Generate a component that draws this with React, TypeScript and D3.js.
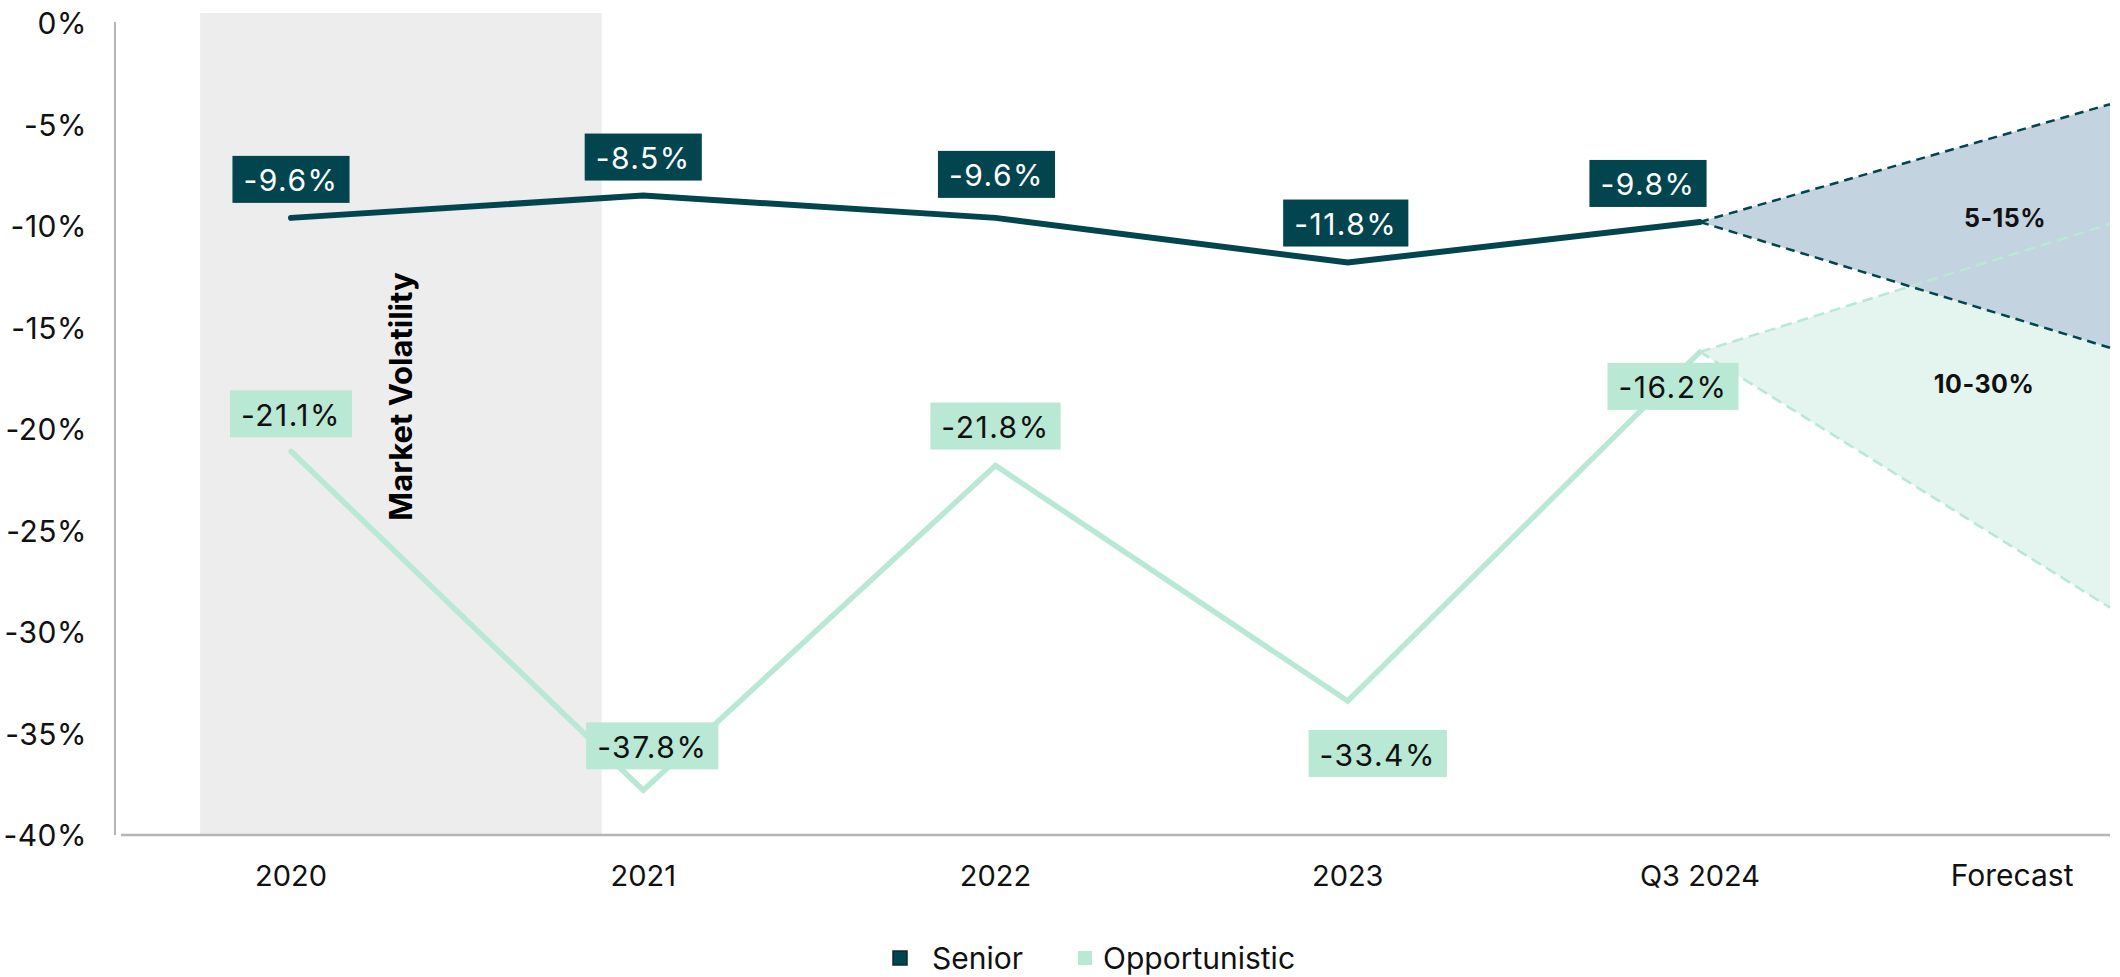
import React, { useEffect, useRef } from "react";
import * as d3 from "d3";

// ---- data ----
const categories = ["2020", "2021", "2022", "2023", "Q3 2024"];
const forecastCategory = "Forecast";
const seniorValues = [-9.6, -8.5, -9.6, -11.8, -9.8];
const opportunisticValues = [-21.1, -37.8, -21.8, -33.4, -16.2];
const seniorForecastRange = [-4.0, -16.0];
const opportunisticForecastRange = [-9.9, -28.8];
const forecastRangeLabels = ["5-15%", "10-30%"];
const yTicks = [0, -5, -10, -15, -20, -25, -30, -35, -40];
const seriesNames = ["Senior", "Opportunistic"];
const shadedLabel = "Market Volatility";

// ---- label placement (style, not data) ----
const seniorLabelPlacement = [
  { side: "above", gap: 15, dx: 0 },
  { side: "above", gap: 15, dx: 0 },
  { side: "above", gap: 20, dx: 1 },
  { side: "above", gap: 16, dx: -2 },
  { side: "above", gap: 15, dx: -52 },
];
const oppLabelPlacement = [
  { side: "above", gap: 14, dx: 0 },
  { side: "above", gap: 21, dx: 9 },
  { side: "above", gap: 16, dx: 0 },
  { side: "below", gap: 29, dx: 30 },
  { side: "below", gap: 11, dx: -27 },
];

const W = 2120;
const H = 977;
const DARK = "#02454F";
const LIGHT = "#B9E8D5";
const SENIOR_CONE = "#C4D3E0";
const OPP_CONE = "#E3F5EE";
const FONT = "Inter, 'Noto Sans', sans-serif";

export default function App() {
  const ref = useRef<SVGSVGElement | null>(null);

  useEffect(() => {
    const svg = d3.select(ref.current);
    svg.selectAll("*").remove();

    const axisLeft = 115;
    const plotRight = 2110;
    const y = d3.scaleLinear().domain([0, -40]).range([23, 835]);
    const x = d3.scalePoint<string>().domain(categories).range([291, 1700]);
    const step = x.step();
    const forecastX = plotRight;
    const forecastLabelX = (x("Q3 2024") as number) + step * 0.886;

    // shaded "market volatility" band
    const bandX0 = (x("2020") as number) - step * 0.258;
    const bandX1 = (x("2021") as number) - step * 0.118;
    svg
      .append("rect")
      .attr("x", bandX0)
      .attr("y", y(0) - 10)
      .attr("width", bandX1 - bandX0)
      .attr("height", y(-40) - (y(0) - 10))
      .attr("fill", "#EDEDED");

    // axes
    svg
      .append("line")
      .attr("x1", axisLeft)
      .attr("x2", axisLeft)
      .attr("y1", y(0) - 1)
      .attr("y2", y(-40))
      .attr("stroke", "#B5B5B5")
      .attr("stroke-width", 2);
    svg
      .append("line")
      .attr("x1", axisLeft + 6)
      .attr("x2", plotRight)
      .attr("y1", y(-40))
      .attr("y2", y(-40))
      .attr("stroke", "#B5B5B5")
      .attr("stroke-width", 2.5);

    // y tick labels
    svg
      .append("g")
      .selectAll("text")
      .data(yTicks)
      .join("text")
      .attr("x", 87)
      .attr("y", (d) => y(d))
      .attr("text-anchor", "end")
      .attr("dominant-baseline", "central")
      .attr("font-family", FONT)
      .attr("font-size", 30)
      .attr("letter-spacing", 0.5)
      .attr("fill", "#111")
      .text((d) => `${d}%`);

    // x labels
    svg
      .append("g")
      .selectAll("text")
      .data(categories)
      .join("text")
      .attr("x", (d) => x(d) as number)
      .attr("y", 875)
      .attr("text-anchor", "middle")
      .attr("dominant-baseline", "central")
      .attr("font-family", FONT)
      .attr("font-size", 29)
      .attr("fill", "#111")
      .text((d) => d);
    svg
      .append("text")
      .attr("x", forecastLabelX)
      .attr("y", 875)
      .attr("text-anchor", "middle")
      .attr("dominant-baseline", "central")
      .attr("font-family", FONT)
      .attr("font-size", 30)
      .attr("fill", "#111")
      .text(forecastCategory);

    // forecast cones
    const lastX = x("Q3 2024") as number;
    const sLast = seniorValues[seniorValues.length - 1];
    const oLast = opportunisticValues[opportunisticValues.length - 1];
    const cone = (v0: number, r: number[]) =>
      `M${lastX},${y(v0)}L${forecastX},${y(r[0])}L${forecastX},${y(r[1])}Z`;
    svg.append("path").attr("d", cone(oLast, opportunisticForecastRange)).attr("fill", OPP_CONE);
    svg.append("path").attr("d", cone(sLast, seniorForecastRange)).attr("fill", SENIOR_CONE);

    const dashed = (v0: number, v1: number, color: string, dash: string) =>
      svg
        .append("line")
        .attr("x1", lastX)
        .attr("y1", y(v0))
        .attr("x2", forecastX)
        .attr("y2", y(v1))
        .attr("stroke", color)
        .attr("stroke-width", 2.5)
        .attr("stroke-dasharray", dash);
    opportunisticForecastRange.forEach((v) => dashed(oLast, v, LIGHT, "11,6"));
    seniorForecastRange.forEach((v) => dashed(sLast, v, DARK, "9,6"));

    // series lines
    const line = d3
      .line<number>()
      .x((_, i) => x(categories[i]) as number)
      .y((d) => y(d));
    svg
      .append("path")
      .attr("d", line(opportunisticValues))
      .attr("fill", "none")
      .attr("stroke", LIGHT)
      .attr("stroke-width", 5.5)
      .attr("stroke-linecap", "round")
      .attr("stroke-linejoin", "miter");
    svg
      .append("path")
      .attr("d", line(seniorValues))
      .attr("fill", "none")
      .attr("stroke", DARK)
      .attr("stroke-width", 6)
      .attr("stroke-linecap", "round")
      .attr("stroke-linejoin", "miter");

    // value labels
    const boxH = 47;
    const drawLabels = (
      values: number[],
      placement: { side: string; gap: number; dx: number }[],
      bg: string,
      fg: string
    ) => {
      values.forEach((v, i) => {
        const p = placement[i];
        const cx = (x(categories[i]) as number) + p.dx;
        const py = y(v);
        const top = p.side === "above" ? py - p.gap - boxH : py + p.gap;
        const g = svg.append("g");
        const rect = g.append("rect").attr("fill", bg);
        const t = g
          .append("text")
          .attr("x", cx)
          .attr("y", top + boxH / 2 + 1)
          .attr("text-anchor", "middle")
          .attr("dominant-baseline", "central")
          .attr("font-family", FONT)
          .attr("font-size", 30)
          .attr("letter-spacing", 1.5)
          .attr("fill", fg)
          .text(`${v.toFixed(1)}%`);
        const w = (t.node() as SVGTextElement).getBBox().width + 22;
        rect
          .attr("x", cx - w / 2)
          .attr("y", top)
          .attr("width", w)
          .attr("height", boxH);
      });
    };
    drawLabels(opportunisticValues, oppLabelPlacement, LIGHT, "#111");
    drawLabels(seniorValues, seniorLabelPlacement, DARK, "#FFFFFF");

    // forecast range labels
    const rangeLabelPos = [
      { x: forecastLabelX - 7, y: y(-9.6) },
      { x: forecastLabelX - 28, y: y(-17.8) },
    ];
    forecastRangeLabels.forEach((lab, i) => {
      svg
        .append("text")
        .attr("x", rangeLabelPos[i].x)
        .attr("y", rangeLabelPos[i].y)
        .attr("text-anchor", "middle")
        .attr("dominant-baseline", "central")
        .attr("font-family", FONT)
        .attr("font-size", 25)
        .attr("font-weight", 700)
        .attr("letter-spacing", 0.5)
        .attr("fill", "#111")
        .text(lab);
    });

    // market volatility label
    svg
      .append("text")
      .attr("transform", `translate(${(bandX0 + bandX1) / 2},${y(-18.4)}) rotate(-90)`)
      .attr("text-anchor", "middle")
      .attr("dominant-baseline", "central")
      .attr("font-family", FONT)
      .attr("font-size", 31)
      .attr("font-weight", 700)
      .attr("fill", "#000")
      .text(shadedLabel);

    // legend
    const legendItems = [
      { name: seriesNames[0], color: DARK, stroke: "#0b2a30", sx: 893, tx: 932 },
      { name: seriesNames[1], color: LIGHT, stroke: "none", sx: 1078, tx: 1103 },
    ];
    const ly = 958;
    legendItems.forEach((it) => {
      svg
        .append("rect")
        .attr("x", it.sx)
        .attr("y", ly - 7)
        .attr("width", 14)
        .attr("height", 14)
        .attr("fill", it.color)
        .attr("stroke", it.stroke)
        .attr("stroke-width", it.stroke === "none" ? 0 : 1.5);
      svg
        .append("text")
        .attr("x", it.tx)
        .attr("y", ly)
        .attr("dominant-baseline", "central")
        .attr("font-family", FONT)
        .attr("font-size", 30)
        .attr("fill", "#111")
        .text(it.name);
    });
  }, []);

  return (
    <svg
      ref={ref}
      width={W}
      height={H}
      style={{ position: "absolute", left: 0, top: 0, background: "#fff" }}
    />
  );
}
